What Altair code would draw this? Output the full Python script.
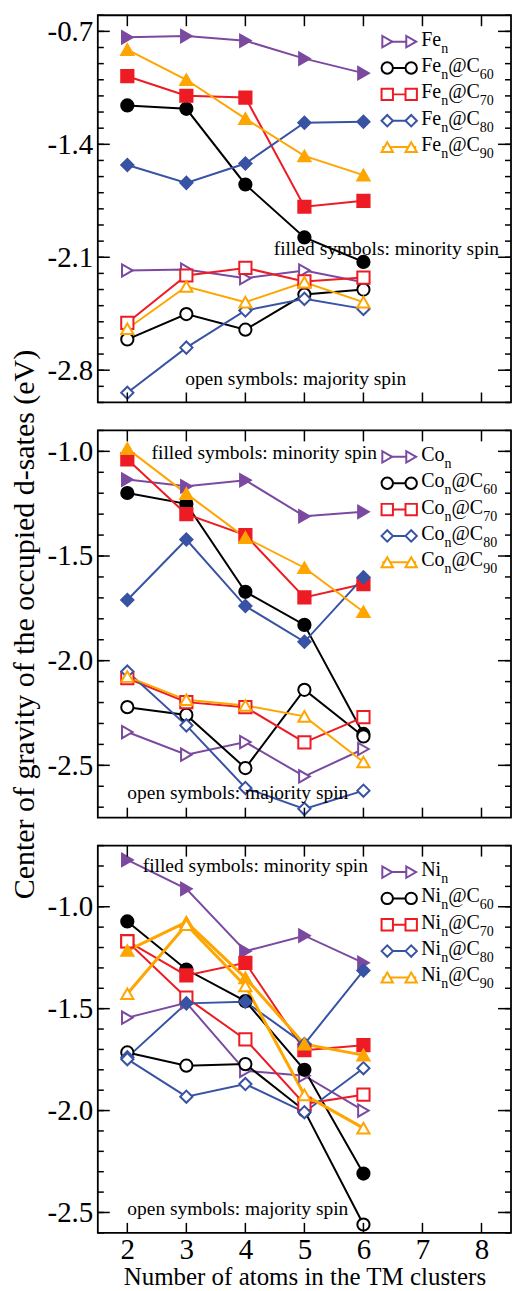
import altair as alt
import pandas as pd
import numpy as np

# ---------------- data ----------------
x_atoms = [2, 3, 4, 5, 6]

# order of series: pure cluster, @C60, @C70, @C80, @C90
fe_minority = [
    [-0.737, -0.729, -0.758, -0.869, -0.959],
    [-1.159, -1.180, -1.649, -1.977, -2.129],
    [-0.978, -1.099, -1.110, -1.787, -1.750],
    [-1.528, -1.639, -1.519, -1.266, -1.260],
    [-0.813, -1.000, -1.241, -1.472, -1.591],
]
fe_majority = [
    [-2.182, -2.176, -2.230, -2.182, -2.255],
    [-2.609, -2.452, -2.549, -2.331, -2.300],
    [-2.506, -2.213, -2.166, -2.250, -2.226],
    [-2.940, -2.660, -2.430, -2.358, -2.420],
    [-2.543, -2.281, -2.378, -2.255, -2.378],
]
co_minority = [
    [-1.135, -1.167, -1.138, -1.310, -1.289],
    [-1.199, -1.251, -1.671, -1.829, -2.350],
    [-1.038, -1.300, -1.400, -1.698, -1.634],
    [-1.710, -1.421, -1.739, -1.910, -1.602],
    [-0.987, -1.202, -1.412, -1.556, -1.766],
]
co_majority = [
    [-2.341, -2.449, -2.389, -2.553, -2.422],
    [-2.222, -2.259, -2.513, -2.139, -2.362],
    [-2.084, -2.198, -2.222, -2.390, -2.270],
    [-2.052, -2.309, -2.608, -2.708, -2.621],
    [-2.076, -2.187, -2.214, -2.266, -2.484],
]
ni_minority = [
    [-0.770, -0.912, -1.218, -1.142, -1.275],
    [-1.072, -1.308, -1.463, -1.800, -2.309],
    [-1.169, -1.337, -1.275, -1.704, -1.679],
    [-1.739, -1.474, -1.466, -1.674, -1.313],
    [-1.215, -1.075, -1.349, -1.674, -1.728],
]
ni_majority = [
    [-1.544, -1.471, -1.805, -1.829, -2.000],
    [-1.715, -1.780, -1.772, -2.000, -2.559],
    [-1.170, -1.446, -1.651, -1.967, -1.922],
    [-1.748, -1.932, -1.870, -2.008, -1.792],
    [-1.427, -1.088, -1.389, -1.923, -2.086],
]

fe_legend = [["Fe", "n"], ["Fe", "n", "@C", "60"], ["Fe", "n", "@C", "70"],
             ["Fe", "n", "@C", "80"], ["Fe", "n", "@C", "90"]]
co_legend = [["Co", "n"], ["Co", "n", "@C", "60"], ["Co", "n", "@C", "70"],
             ["Co", "n", "@C", "80"], ["Co", "n", "@C", "90"]]
ni_legend = [["Ni", "n"], ["Ni", "n", "@C", "60"], ["Ni", "n", "@C", "70"],
             ["Ni", "n", "@C", "80"], ["Ni", "n", "@C", "90"]]

fe_major = [-2.8, -2.1, -1.4, -0.7]
co_major = [-2.5, -2.0, -1.5, -1.0]
ni_major = [-2.5, -2.0, -1.5, -1.0]
x_ticks = [2, 3, 4, 5, 6, 7, 8]

note_filled = "filled symbols: minority spin"
note_open = "open symbols: majority spin"
y_title = "Center of gravity of the occupied d-sates (eV)"
x_title = "Number of atoms in the TM clusters"

# ---------------- style ----------------
COLORS = ["#7B4AA0", "#000000", "#ED1C24", "#3953A4", "#FFA500"]
SHAPES = ["triangle-right", "circle", "square", "diamond", "triangle-up"]
FONT = "Liberation Serif"
W, H = 414, 388
XDOM = [1.5, 8.5]

CHARW = {"F": 556, "e": 444, "C": 667, "o": 500, "N": 722, "i": 278, "@": 921,
         "n": 500, "0": 500, "6": 500, "7": 500, "8": 500, "9": 500}


def tw(s, fs):
    return sum(CHARW.get(c, 500) for c in s) / 1000.0 * fs


def px2x(px):
    return XDOM[0] + px / W * (XDOM[1] - XDOM[0])


def py2y(py, ydom):
    return ydom[1] - py / H * (ydom[1] - ydom[0])


def build_panel(minority, majority, legend, ydom, major, note_pos, show_x,
                show_ytitle, widths):
    rows = []
    for i in range(5):
        for spin, vals in (("filled", minority[i]), ("open", majority[i])):
            for xv, yv in zip(x_atoms, vals):
                rows.append(dict(key=f"{i}-{spin}", xv=xv, yv=yv, col=COLORS[i],
                                 fillc=COLORS[i] if spin == "filled" else "white",
                                 shp=SHAPES[i], sw=widths[i]))
    df = pd.DataFrame(rows)

    if show_x:
        xaxis = alt.Axis(values=x_ticks, format="d", ticks=False, domain=False,
                         grid=False, labelFontSize=29, labelPadding=3,
                         labelFont=FONT, titleFont=FONT, labelColor="black",
                         titleColor="black",
                         title=x_title, titleFontSize=25,
                         titleFontWeight="normal", titlePadding=0)
    else:
        xaxis = None
    X = alt.X("xv:Q", scale=alt.Scale(domain=XDOM, nice=False, zero=False),
              axis=xaxis)
    yaxis_kw = dict(values=major,
                    labelExpr="'-' + format(abs(datum.value), '.1f')",
                    ticks=False, domain=False, grid=False, labelFontSize=29,
                    labelFont=FONT, titleFont=FONT, labelColor="black",
                    titleColor="black", labelPadding=5)
    if show_ytitle:
        yaxis = alt.Axis(title=y_title, titleFontSize=30,
                         titleFontWeight="normal", titlePadding=8, **yaxis_kw)
    else:
        yaxis = alt.Axis(title=None, **yaxis_kw)
    Y = alt.Y("yv:Q", scale=alt.Scale(domain=ydom, nice=False, zero=False),
              axis=yaxis)

    lines = alt.Chart(df).mark_line(clip=True).encode(
        x=X, y=Y, detail="key:N",
        color=alt.Color("col:N", scale=None),
        strokeWidth=alt.StrokeWidth("sw:Q", scale=None))
    points = alt.Chart(df).mark_point(size=150, strokeWidth=2, opacity=1,
                                      clip=True).encode(
        x=X, y=Y,
        shape=alt.Shape("shp:N", scale=None),
        stroke=alt.Stroke("col:N", scale=None),
        fill=alt.Fill("fillc:N", scale=None))

    # ticks (inward) as rules
    lo, hi = ydom
    minor = [round(v, 2) for v in np.arange(np.ceil(lo * 10) / 10, hi + 1e-9, 0.1)]
    dmaj = pd.DataFrame({"yv": major})
    dmin = pd.DataFrame({"yv": minor})
    dx = pd.DataFrame({"xv": x_ticks})
    tick = dict(color="black", strokeWidth=1.5)
    t1 = alt.Chart(dmaj).mark_rule(**tick).encode(y=Y, x=alt.value(0), x2=alt.value(12))
    t2 = alt.Chart(dmaj).mark_rule(**tick).encode(y=Y, x=alt.value(W - 13), x2=alt.value(W))
    t3 = alt.Chart(dmin).mark_rule(**tick).encode(y=Y, x=alt.value(0), x2=alt.value(6))
    t4 = alt.Chart(dmin).mark_rule(**tick).encode(y=Y, x=alt.value(W - 6), x2=alt.value(W))
    t5 = alt.Chart(dx).mark_rule(**tick).encode(x=X, y=alt.value(0), y2=alt.value(11))
    t6 = alt.Chart(dx).mark_rule(**tick).encode(x=X, y=alt.value(H - 10), y2=alt.value(H))

    # legend (manual, with subscripts)
    lrows, lline, lpts = [], [], []
    for i, parts in enumerate(legend):
        ry = 26.5 + 26.4 * i
        lline.append(dict(xv=px2x(285), xv2=px2x(319), yv=py2y(ry, ydom), col=COLORS[i]))
        for mx in (290, 314):
            lpts.append(dict(xv=px2x(mx), yv=py2y(ry, ydom), col=COLORS[i], shp=SHAPES[i]))
        cx = 324.0
        for k, p in enumerate(parts):
            sub = (k % 2 == 1)
            fs = 14 if sub else 20
            base = ry + (11 if sub else 4)
            lrows.append(dict(xv=px2x(cx), yv=py2y(base, ydom), txt=p, fs=fs))
            cx += tw(p, fs)
    (fx, fy), (ox, oy) = note_pos
    lrows.append(dict(xv=fx, yv=fy, txt=note_filled, fs=19.5))
    lrows.append(dict(xv=ox, yv=oy, txt=note_open, fs=19.5))

    leg_line = alt.Chart(pd.DataFrame(lline)).mark_rule(strokeWidth=2).encode(
        x=X, x2="xv2:Q", y=Y, color=alt.Color("col:N", scale=None))
    leg_pts = alt.Chart(pd.DataFrame(lpts)).mark_point(
        size=130, strokeWidth=2, opacity=1, fill="white", filled=False).encode(
        x=X, y=Y, shape=alt.Shape("shp:N", scale=None),
        stroke=alt.Stroke("col:N", scale=None))
    texts = alt.Chart(pd.DataFrame(lrows)).mark_text(
        font=FONT, align="left", baseline="alphabetic", color="black").encode(
        x=X, y=Y, text="txt:N", size=alt.Size("fs:Q", scale=None))

    return alt.layer(lines, points, t1, t2, t3, t4, t5, t6,
                     leg_line, leg_pts, texts).properties(width=W, height=H)


p1 = build_panel(fe_minority, fe_majority, fe_legend, [-3.0, -0.6], fe_major,
                 ((4.48, -2.084), (2.98, -2.893)), False, False, [2, 2, 2, 2, 2])
p2 = build_panel(co_minority, co_majority, co_legend, [-2.75, -0.9], co_major,
                 ((2.41, -1.038), (2.0, -2.663)), False, True, [2, 2, 2, 2, 2])
p3 = build_panel(ni_minority, ni_majority, ni_legend, [-2.6, -0.7], ni_major,
                 ((2.26, -0.831), (2.0, -2.513)), True, False, [2, 2, 2, 2, 3])

chart = alt.vconcat(p1, p2, p3, spacing=28, bounds="flush").properties(
    padding={"left": 8, "top": 12, "right": 0, "bottom": 0},
    background="white",
).configure_view(stroke="black", strokeWidth=1.8).configure_axis(
    labelFont=FONT, titleFont=FONT, labelColor="black", titleColor="black"
)

chart.save("out.html", embed_options={"renderer": "svg", "actions": False})
